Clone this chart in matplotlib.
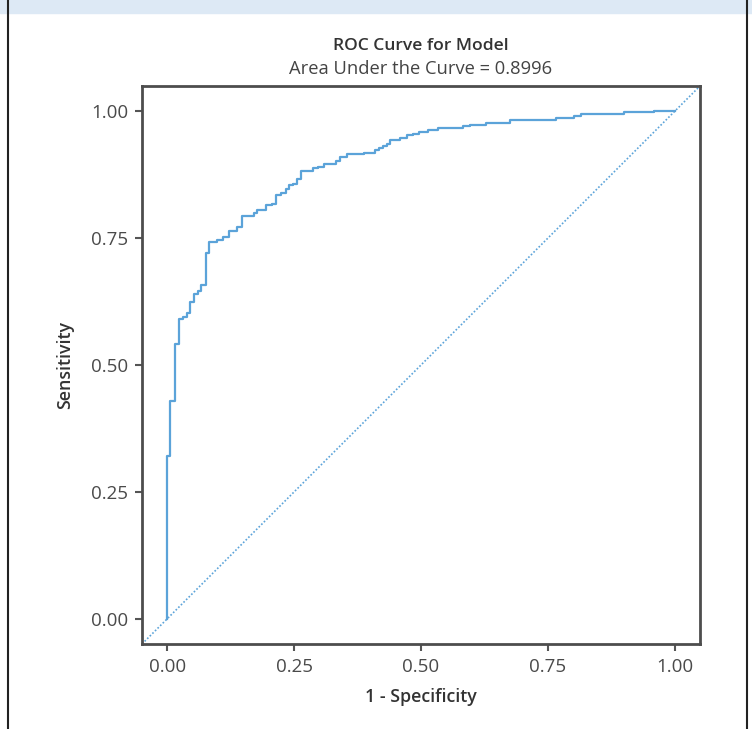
import matplotlib.pyplot as plt
from matplotlib.patches import Rectangle
from matplotlib.lines import Line2D

# ROC points (step corners)
fpr = [0.0, 0.0, 0.005, 0.015, 0.023, 0.030, 0.038, 0.044, 0.053, 0.061,
       0.067, 0.077, 0.083, 0.097, 0.109, 0.121, 0.138, 0.147, 0.170, 0.176,
       0.194, 0.206, 0.214, 0.224, 0.233, 0.240, 0.248, 0.255, 0.263, 0.288,
       0.296, 0.308, 0.332, 0.341, 0.355, 0.387, 0.410, 0.418, 0.425, 0.433,
       0.439, 0.458, 0.473, 0.484, 0.497, 0.514, 0.534, 0.583, 0.597, 0.629,
       0.675, 0.767, 0.801, 0.815, 0.900, 0.959, 1.0]
tpr = [0.0, 0.320, 0.429, 0.542, 0.591, 0.595, 0.603, 0.624, 0.639, 0.645,
       0.657, 0.720, 0.742, 0.746, 0.752, 0.764, 0.773, 0.793, 0.800, 0.806,
       0.816, 0.818, 0.836, 0.840, 0.847, 0.854, 0.857, 0.867, 0.883, 0.888,
       0.891, 0.896, 0.902, 0.911, 0.915, 0.917, 0.924, 0.927, 0.931, 0.936,
       0.944, 0.947, 0.953, 0.955, 0.960, 0.964, 0.968, 0.972, 0.974, 0.978,
       0.983, 0.986, 0.991, 0.995, 0.998, 1.0, 1.0]
ticks = [0.0, 0.25, 0.5, 0.75, 1.0]
tick_labels = ["0.00", "0.25", "0.50", "0.75", "1.00"]
auc_value = 0.8996

plt.rcParams['font.family'] = ['Open Sans', 'DejaVu Sans']
curve_col = "#5ba3d9"
text_col = "#333333"

fig = plt.figure(figsize=(7.52, 7.29), dpi=100)
ax = fig.add_axes([142 / 752, 1 - 644 / 729, 558 / 752, 558 / 729])

ax.plot(fpr, tpr, drawstyle="steps-post", color=curve_col, lw=1.6)
ax.axline((0, 0), (1, 1), color=curve_col, lw=1.2, ls=(0, (1, 1.2)))

ax.set_xlim(-0.05, 1.05)
ax.set_ylim(-0.05, 1.05)
ax.set_xticks(ticks, tick_labels)
ax.set_yticks(ticks, tick_labels)
ax.tick_params(colors="#555555", labelcolor="#4a4a4a", labelsize=13.5,
               length=5, width=1.5, pad=5)
for s in ax.spines.values():
    s.set_color("#4d4d4d")
    s.set_linewidth(2)

ax.set_xlabel("1 - Specificity", fontsize=12.8, color=text_col,
              fontweight="semibold", labelpad=9)
ax.set_ylabel("Sensitivity", fontsize=12.8, color=text_col,
              fontweight="semibold", labelpad=12)

cx = (142 + 700) / 2 / 752
fig.text(cx, 1 - 46 / 729, "ROC Curve for Model", ha="center", va="center",
         fontsize=12.6, color=text_col, fontweight="semibold")
fig.text(cx, 1 - 69 / 729, f"Area Under the Curve = {auc_value}",
         ha="center", va="center", fontsize=13.2, color="#444444")

# page decoration: light band at top and side rules
fig.patches.append(Rectangle((0, 1 - 13 / 729), 1, 13 / 729,
                             transform=fig.transFigure, color="#dde9f5",
                             zorder=0))
for xx in (7.5 / 752, 747 / 752):
    fig.lines.append(Line2D([xx, xx], [0, 1], transform=fig.transFigure,
                            color="#222222", lw=1.5))

fig.savefig("out.png", dpi=100)
